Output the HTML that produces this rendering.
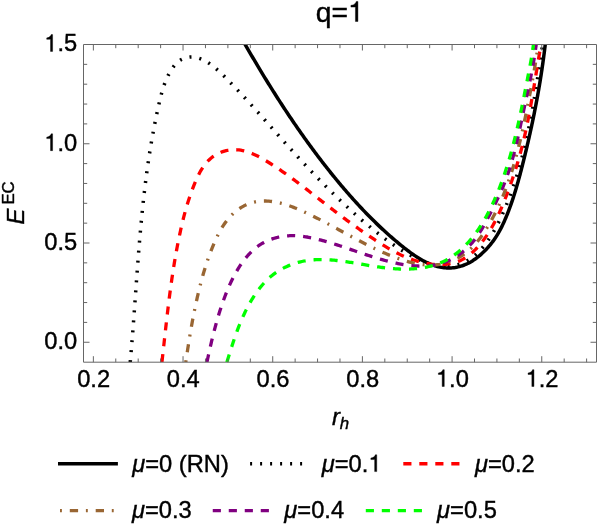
<!DOCTYPE html>
<html><head><meta charset="utf-8"><title>q=1</title>
<style>
html,body{margin:0;padding:0;background:#fff;}
body{width:597px;height:525px;overflow:hidden;}
svg{display:block;will-change:transform;}
text{font-family:"Liberation Sans",sans-serif;fill:#000;stroke:#000;stroke-width:0.4px;}
.g{fill:#000;stroke:#000;stroke-width:0.4px;}
.i{font-style:italic;}
</style></head><body>
<svg width="597" height="525" viewBox="0 0 597 525">
<rect width="597" height="525" fill="#fff"/>
<defs><clipPath id="c"><rect x="83.5" y="44.5" width="513.0" height="317.7"/></clipPath></defs>
<g clip-path="url(#c)" fill="none" stroke-width="3.3" stroke-linejoin="round">
<path d="M242.95 40.62 L243.66 41.86 L244.37 43.11 L245.08 44.35 L245.79 45.59 L246.51 46.83 L247.22 48.07 L247.94 49.31 L248.66 50.55 L249.38 51.79 L250.10 53.03 L250.83 54.27 L251.55 55.51 L252.28 56.75 L253.01 57.99 L253.74 59.23 L254.47 60.47 L255.20 61.71 L255.94 62.95 L256.67 64.19 L257.41 65.43 L258.15 66.67 L258.89 67.91 L259.64 69.14 L260.38 70.38 L261.13 71.62 L261.87 72.85 L262.62 74.09 L263.38 75.33 L264.13 76.56 L264.88 77.80 L265.64 79.03 L266.40 80.26 L267.16 81.50 L267.92 82.73 L268.68 83.96 L269.45 85.19 L270.21 86.42 L270.98 87.65 L271.75 88.88 L272.52 90.11 L273.29 91.34 L274.07 92.56 L274.85 93.79 L275.62 95.01 L276.40 96.24 L277.19 97.46 L277.97 98.69 L278.75 99.91 L279.54 101.13 L280.33 102.35 L281.12 103.57 L281.91 104.79 L282.71 106.00 L283.50 107.22 L284.30 108.43 L285.10 109.65 L285.90 110.86 L286.70 112.07 L287.51 113.28 L288.31 114.49 L289.12 115.70 L289.93 116.91 L290.75 118.11 L291.56 119.32 L292.37 120.52 L293.19 121.72 L294.01 122.92 L294.83 124.12 L295.65 125.32 L296.48 126.52 L297.31 127.71 L298.13 128.91 L298.96 130.10 L299.80 131.29 L300.63 132.48 L301.47 133.67 L302.30 134.86 L303.14 136.04 L303.98 137.23 L304.83 138.41 L305.67 139.59 L306.52 140.77 L307.37 141.94 L308.22 143.12 L309.07 144.29 L309.93 145.47 L310.78 146.64 L311.64 147.80 L312.50 148.97 L313.36 150.14 L314.23 151.30 L315.09 152.46 L315.96 153.62 L316.83 154.78 L317.70 155.94 L318.58 157.09 L319.45 158.24 L320.33 159.39 L321.21 160.54 L322.09 161.69 L322.98 162.83 L323.86 163.97 L324.75 165.11 L325.64 166.25 L326.53 167.39 L327.42 168.52 L328.32 169.65 L329.22 170.78 L330.12 171.91 L331.02 173.03 L331.92 174.16 L332.83 175.28 L333.73 176.40 L334.64 177.51 L335.56 178.63 L336.47 179.74 L337.38 180.85 L338.30 181.95 L339.22 183.06 L340.14 184.16 L341.07 185.26 L341.99 186.36 L342.92 187.45 L343.85 188.54 L344.78 189.63 L345.72 190.72 L346.65 191.80 L347.59 192.88 L348.53 193.96 L349.48 195.04 L350.42 196.11 L351.37 197.19 L352.32 198.26 L353.28 199.32 L354.23 200.39 L355.19 201.45 L356.15 202.51 L357.12 203.56 L358.08 204.61 L359.05 205.66 L360.03 206.71 L361.01 207.76 L361.99 208.80 L362.97 209.84 L363.96 210.88 L364.95 211.91 L365.94 212.95 L366.94 213.98 L367.94 215.00 L368.95 216.03 L369.96 217.05 L370.97 218.07 L371.99 219.08 L373.01 220.10 L374.04 221.11 L375.07 222.12 L376.10 223.12 L377.14 224.12 L378.19 225.12 L379.23 226.12 L380.29 227.12 L381.34 228.11 L382.41 229.10 L383.47 230.08 L384.55 231.07 L385.62 232.05 L386.71 233.03 L387.79 234.00 L388.89 234.97 L389.98 235.94 L391.09 236.91 L392.20 237.87 L393.31 238.84 L394.43 239.79 L395.56 240.75 L396.69 241.70 L397.83 242.65 L398.97 243.60 L400.12 244.55 L401.27 245.49 L402.43 246.43 L403.60 247.36 L404.78 248.28 L405.95 249.20 L407.14 250.12 L408.33 251.02 L409.53 251.91 L410.73 252.79 L411.94 253.65 L413.16 254.50 L414.38 255.34 L415.61 256.16 L416.84 256.96 L418.08 257.75 L419.33 258.51 L420.58 259.25 L421.84 259.97 L423.10 260.67 L424.37 261.34 L425.65 261.99 L426.93 262.61 L428.22 263.20 L429.51 263.77 L430.81 264.30 L432.12 264.80 L433.43 265.27 L434.75 265.71 L436.07 266.11 L437.40 266.48 L438.74 266.81 L440.08 267.10 L441.43 267.35 L442.78 267.56 L444.14 267.73 L445.51 267.86 L446.88 267.94 L448.26 267.98 L449.64 267.97 L451.03 267.91 L452.42 267.81 L453.82 267.66 L455.23 267.46 L456.63 267.21 L458.04 266.91 L459.44 266.57 L460.83 266.17 L462.22 265.74 L463.60 265.25 L464.96 264.72 L466.31 264.15 L467.64 263.53 L468.96 262.87 L470.25 262.17 L471.53 261.43 L472.78 260.65 L474.02 259.83 L475.24 258.99 L476.44 258.11 L477.62 257.20 L478.78 256.27 L479.92 255.31 L481.04 254.33 L482.14 253.33 L483.22 252.31 L484.28 251.28 L485.32 250.23 L486.34 249.17 L487.34 248.09 L488.32 247.00 L489.28 245.90 L490.22 244.78 L491.14 243.65 L492.04 242.51 L492.91 241.36 L493.77 240.19 L494.60 239.01 L495.42 237.82 L496.21 236.62 L496.98 235.40 L497.72 234.18 L498.45 232.94 L499.16 231.69 L499.84 230.44 L500.51 229.17 L501.17 227.90 L501.81 226.62 L502.43 225.33 L503.04 224.04 L503.64 222.74 L504.23 221.43 L504.80 220.12 L505.37 218.80 L505.93 217.48 L506.48 216.15 L507.03 214.82 L507.56 213.49 L508.09 212.15 L508.60 210.81 L509.12 209.46 L509.62 208.12 L510.12 206.76 L510.60 205.41 L511.09 204.05 L511.56 202.68 L512.03 201.32 L512.49 199.95 L512.95 198.58 L513.40 197.20 L513.84 195.83 L514.28 194.45 L514.71 193.07 L515.14 191.68 L515.56 190.30 L515.98 188.91 L516.39 187.52 L516.80 186.12 L517.20 184.73 L517.60 183.33 L517.99 181.94 L518.38 180.54 L518.77 179.14 L519.15 177.73 L519.53 176.33 L519.91 174.93 L520.28 173.52 L520.65 172.12 L521.02 170.71 L521.38 169.30 L521.74 167.89 L522.10 166.49 L522.46 165.08 L522.81 163.67 L523.16 162.26 L523.52 160.85 L523.87 159.44 L524.21 158.03 L524.56 156.63 L524.90 155.22 L525.24 153.81 L525.59 152.40 L525.92 150.99 L526.26 149.58 L526.60 148.17 L526.93 146.76 L527.26 145.35 L527.59 143.94 L527.92 142.53 L528.24 141.12 L528.57 139.71 L528.89 138.30 L529.21 136.89 L529.52 135.48 L529.84 134.07 L530.15 132.66 L530.47 131.24 L530.77 129.83 L531.08 128.42 L531.39 127.01 L531.69 125.59 L531.99 124.18 L532.29 122.77 L532.59 121.35 L532.89 119.94 L533.18 118.53 L533.47 117.11 L533.76 115.70 L534.05 114.28 L534.33 112.86 L534.61 111.45 L534.89 110.03 L535.17 108.61 L535.45 107.20 L535.72 105.78 L535.99 104.36 L536.26 102.94 L536.53 101.52 L536.79 100.10 L537.06 98.68 L537.32 97.26 L537.58 95.84 L537.83 94.42 L538.09 93.00 L538.34 91.57 L538.59 90.15 L538.83 88.73 L539.08 87.30 L539.32 85.88 L539.56 84.45 L539.80 83.03 L540.03 81.60 L540.26 80.17 L540.49 78.75 L540.72 77.32 L540.94 75.89 L541.17 74.46 L541.39 73.03 L541.61 71.60 L541.82 70.16 L542.03 68.73 L542.24 67.30 L542.45 65.86 L542.66 64.43 L542.86 62.99 L543.06 61.56 L543.26 60.12 L543.45 58.68 L543.64 57.25 L543.83 55.81 L544.02 54.37 L544.20 52.93 L544.39 51.48 L544.57 50.04 L544.74 48.60 L544.92 47.16 L545.09 45.71 L545.26 44.26 L545.42 42.82 L545.59 41.37 L545.75 39.92" stroke="#000" stroke-width="3.5"/>
<path d="M130.23 362.13 L130.44 359.85 L130.64 357.57 L130.84 355.28 L131.04 353.00 L131.24 350.71 L131.43 348.43 L131.62 346.14 L131.81 343.85 L131.99 341.56 L132.18 339.27 L132.36 336.98 L132.54 334.69 L132.72 332.40 L132.90 330.11 L133.07 327.82 L133.25 325.52 L133.42 323.23 L133.59 320.94 L133.76 318.64 L133.93 316.35 L134.10 314.05 L134.27 311.76 L134.43 309.46 L134.60 307.16 L134.77 304.87 L134.93 302.57 L135.10 300.27 L135.26 297.98 L135.43 295.68 L135.59 293.38 L135.75 291.08 L135.92 288.79 L136.08 286.49 L136.25 284.19 L136.42 281.89 L136.58 279.59 L136.75 277.29 L136.92 274.99 L137.09 272.69 L137.26 270.40 L137.43 268.10 L137.60 265.80 L137.77 263.50 L137.95 261.20 L138.12 258.90 L138.30 256.60 L138.48 254.30 L138.66 252.01 L138.85 249.71 L139.03 247.41 L139.22 245.11 L139.41 242.81 L139.60 240.52 L139.79 238.22 L139.99 235.92 L140.19 233.63 L140.39 231.33 L140.59 229.04 L140.80 226.74 L141.01 224.44 L141.22 222.15 L141.44 219.86 L141.66 217.56 L141.88 215.27 L142.11 212.98 L142.34 210.69 L142.57 208.39 L142.81 206.10 L143.05 203.81 L143.29 201.52 L143.54 199.23 L143.80 196.95 L144.05 194.66 L144.32 192.37 L144.58 190.08 L144.85 187.80 L145.13 185.51 L145.41 183.23 L145.69 180.95 L145.98 178.66 L146.28 176.38 L146.58 174.10 L146.89 171.82 L147.20 169.54 L147.51 167.27 L147.83 164.99 L148.16 162.71 L148.50 160.44 L148.83 158.16 L149.18 155.89 L149.53 153.62 L149.89 151.35 L150.25 149.08 L150.62 146.81 L151.00 144.54 L151.38 142.28 L151.77 140.01 L152.17 137.75 L152.57 135.48 L152.98 133.22 L153.40 130.96 L153.82 128.70 L154.25 126.45 L154.69 124.19 L155.14 121.93 L155.59 119.68 L156.05 117.43 L156.52 115.18 L157.00 112.93 L157.48 110.68 L157.98 108.43 L158.48 106.19 L158.99 103.95 L159.50 101.70 L160.03 99.46 L160.58 97.23 L161.15 95.00 L161.75 92.77 L162.38 90.55 L163.05 88.34 L163.77 86.14 L164.54 83.95 L165.36 81.77 L166.25 79.61 L167.20 77.45 L168.23 75.32 L169.34 73.20 L170.53 71.11 L171.80 69.08 L173.17 67.13 L174.62 65.29 L176.17 63.58 L177.81 62.02 L179.55 60.65 L181.39 59.49 L183.33 58.56 L185.36 57.86 L187.47 57.38 L189.62 57.12 L191.82 57.07 L194.04 57.22 L196.26 57.57 L198.48 58.10 L200.66 58.82 L202.81 59.71 L204.90 60.74 L206.95 61.89 L208.93 63.15 L210.86 64.48 L212.73 65.87 L214.54 67.33 L216.31 68.83 L218.04 70.38 L219.75 71.97 L221.42 73.58 L223.08 75.20 L224.72 76.84 L226.36 78.49 L227.99 80.13 L229.61 81.79 L231.22 83.44 L232.83 85.11 L234.43 86.77 L236.02 88.44 L237.61 90.12 L239.19 91.79 L240.77 93.48 L242.34 95.16 L243.91 96.85 L245.47 98.54 L247.03 100.23 L248.58 101.93 L250.13 103.63 L251.67 105.33 L253.21 107.03 L254.75 108.74 L256.29 110.45 L257.82 112.16 L259.35 113.87 L260.88 115.58 L262.41 117.29 L263.93 119.01 L265.46 120.73 L266.98 122.44 L268.50 124.16 L270.02 125.88 L271.55 127.60 L273.07 129.32 L274.59 131.03 L276.11 132.75 L277.64 134.47 L279.16 136.19 L280.69 137.91 L282.22 139.62 L283.75 141.34 L285.28 143.05 L286.82 144.76 L288.36 146.48 L289.90 148.19 L291.44 149.89 L292.99 151.60 L294.53 153.31 L296.09 155.01 L297.64 156.71 L299.20 158.41 L300.76 160.10 L302.33 161.80 L303.90 163.49 L305.47 165.17 L307.04 166.86 L308.62 168.54 L310.21 170.22 L311.79 171.89 L313.38 173.56 L314.98 175.23 L316.57 176.89 L318.18 178.55 L319.78 180.20 L321.39 181.85 L323.01 183.50 L324.63 185.14 L326.25 186.78 L327.88 188.41 L329.52 190.04 L331.15 191.66 L332.80 193.27 L334.44 194.89 L336.10 196.49 L337.76 198.09 L339.42 199.69 L341.09 201.27 L342.76 202.86 L344.44 204.43 L346.12 206.00 L347.81 207.56 L349.51 209.12 L351.21 210.67 L352.91 212.21 L354.63 213.75 L356.35 215.27 L358.07 216.79 L359.80 218.31 L361.54 219.81 L363.28 221.31 L365.03 222.80 L366.78 224.28 L368.55 225.76 L370.31 227.22 L372.09 228.68 L373.87 230.13 L375.66 231.56 L377.46 232.99 L379.26 234.41 L381.08 235.81 L382.91 237.20 L384.74 238.58 L386.59 239.94 L388.45 241.29 L390.32 242.63 L392.20 243.94 L394.10 245.24 L396.00 246.52 L397.93 247.79 L399.86 249.03 L401.82 250.26 L403.78 251.46 L405.77 252.64 L407.77 253.80 L409.79 254.94 L411.82 256.05 L413.88 257.14 L415.95 258.19 L418.04 259.21 L420.15 260.18 L422.27 261.09 L424.42 261.96 L426.58 262.76 L428.76 263.49 L430.95 264.14 L433.17 264.72 L435.40 265.21 L437.65 265.60 L439.92 265.90 L442.21 266.09 L444.51 266.18 L446.81 266.16 L449.11 266.04 L451.41 265.81 L453.68 265.46 L455.94 265.01 L458.17 264.45 L460.36 263.78 L462.52 262.99 L464.62 262.10 L466.67 261.09 L468.66 259.96 L470.59 258.72 L472.45 257.39 L474.25 255.96 L476.00 254.44 L477.68 252.86 L479.32 251.21 L480.89 249.50 L482.42 247.76 L483.90 245.98 L485.34 244.16 L486.72 242.32 L488.07 240.45 L489.37 238.55 L490.63 236.62 L491.86 234.67 L493.05 232.70 L494.21 230.71 L495.33 228.70 L496.42 226.67 L497.49 224.63 L498.53 222.57 L499.54 220.49 L500.53 218.41 L501.50 216.32 L502.45 214.21 L503.38 212.11 L504.30 209.99 L505.20 207.87 L506.08 205.75 L506.95 203.62 L507.80 201.48 L508.63 199.34 L509.45 197.19 L510.26 195.04 L511.05 192.88 L511.83 190.72 L512.59 188.56 L513.34 186.39 L514.08 184.21 L514.80 182.03 L515.51 179.85 L516.20 177.66 L516.88 175.46 L517.55 173.27 L518.21 171.07 L518.86 168.86 L519.49 166.65 L520.11 164.44 L520.73 162.23 L521.33 160.01 L521.91 157.79 L522.49 155.56 L523.06 153.33 L523.62 151.10 L524.17 148.86 L524.70 146.63 L525.23 144.39 L525.75 142.14 L526.26 139.90 L526.76 137.65 L527.26 135.40 L527.74 133.14 L528.22 130.89 L528.69 128.63 L529.15 126.37 L529.60 124.11 L530.05 121.85 L530.49 119.58 L530.92 117.32 L531.35 115.05 L531.77 112.78 L532.18 110.51 L532.59 108.24 L532.99 105.97 L533.39 103.69 L533.78 101.42 L534.17 99.14 L534.56 96.87 L534.93 94.59 L535.31 92.31 L535.68 90.04 L536.05 87.76 L536.41 85.48 L536.77 83.20 L537.13 80.92 L537.49 78.65 L537.84 76.37 L538.19 74.09 L538.54 71.81 L538.89 69.54 L539.24 67.26 L539.58 64.98 L539.92 62.71 L540.27 60.44 L540.61 58.16 L540.95 55.89 L541.29 53.62 L541.63 51.35 L541.98 49.08 L542.32 46.82 L542.66 44.55 L543.01 42.29 L543.36 40.03" stroke="#000" stroke-width="3.5" stroke-dasharray="2 7.986"/>
<path d="M161.94 362.16 L162.15 360.33 L162.35 358.51 L162.55 356.68 L162.76 354.85 L162.96 353.02 L163.16 351.19 L163.36 349.35 L163.57 347.52 L163.77 345.68 L163.97 343.85 L164.17 342.01 L164.37 340.17 L164.58 338.33 L164.78 336.49 L164.98 334.65 L165.19 332.81 L165.39 330.97 L165.60 329.13 L165.80 327.29 L166.01 325.44 L166.22 323.60 L166.43 321.75 L166.64 319.91 L166.85 318.07 L167.07 316.22 L167.28 314.38 L167.50 312.53 L167.72 310.69 L167.94 308.84 L168.16 307.00 L168.38 305.15 L168.61 303.31 L168.84 301.46 L169.07 299.62 L169.31 297.77 L169.54 295.93 L169.78 294.09 L170.03 292.24 L170.27 290.40 L170.52 288.56 L170.77 286.72 L171.02 284.88 L171.28 283.04 L171.54 281.20 L171.81 279.36 L172.07 277.52 L172.35 275.69 L172.62 273.85 L172.90 272.02 L173.18 270.18 L173.47 268.35 L173.76 266.52 L174.06 264.69 L174.36 262.86 L174.66 261.04 L174.97 259.21 L175.28 257.39 L175.60 255.56 L175.93 253.74 L176.25 251.92 L176.59 250.10 L176.93 248.29 L177.27 246.47 L177.62 244.66 L177.97 242.85 L178.33 241.04 L178.70 239.23 L179.07 237.43 L179.45 235.63 L179.83 233.83 L180.22 232.03 L180.61 230.23 L181.01 228.44 L181.42 226.64 L181.84 224.85 L182.26 223.06 L182.69 221.28 L183.13 219.49 L183.58 217.71 L184.04 215.93 L184.51 214.15 L184.99 212.37 L185.48 210.59 L185.98 208.82 L186.49 207.05 L187.02 205.27 L187.55 203.50 L188.10 201.73 L188.67 199.96 L189.24 198.19 L189.84 196.42 L190.44 194.66 L191.06 192.89 L191.70 191.12 L192.36 189.36 L193.03 187.59 L193.71 185.83 L194.42 184.06 L195.14 182.30 L195.89 180.55 L196.66 178.80 L197.45 177.07 L198.28 175.36 L199.14 173.68 L200.03 172.02 L200.96 170.39 L201.94 168.79 L202.95 167.24 L204.01 165.72 L205.12 164.26 L206.28 162.84 L207.50 161.48 L208.77 160.18 L210.09 158.94 L211.49 157.77 L212.94 156.67 L214.45 155.64 L216.01 154.68 L217.62 153.80 L219.27 153.00 L220.96 152.29 L222.69 151.65 L224.44 151.10 L226.22 150.64 L228.01 150.26 L229.83 149.98 L231.65 149.79 L233.48 149.69 L235.31 149.69 L237.13 149.78 L238.95 149.95 L240.76 150.20 L242.55 150.53 L244.33 150.94 L246.09 151.41 L247.85 151.95 L249.59 152.55 L251.31 153.21 L253.03 153.92 L254.73 154.68 L256.42 155.48 L258.10 156.32 L259.77 157.20 L261.42 158.11 L263.07 159.05 L264.70 160.01 L266.33 160.99 L267.94 161.98 L269.55 162.99 L271.14 164.00 L272.73 165.02 L274.30 166.05 L275.87 167.08 L277.43 168.12 L278.98 169.17 L280.53 170.22 L282.06 171.28 L283.59 172.34 L285.12 173.41 L286.63 174.48 L288.14 175.56 L289.65 176.65 L291.15 177.73 L292.64 178.82 L294.13 179.92 L295.61 181.02 L297.09 182.12 L298.57 183.23 L300.04 184.34 L301.51 185.45 L302.97 186.57 L304.44 187.69 L305.89 188.81 L307.35 189.93 L308.81 191.05 L310.26 192.18 L311.71 193.31 L313.16 194.44 L314.61 195.57 L316.06 196.70 L317.51 197.83 L318.96 198.96 L320.41 200.09 L321.86 201.23 L323.32 202.36 L324.77 203.49 L326.23 204.62 L327.68 205.75 L329.14 206.88 L330.60 208.01 L332.07 209.14 L333.54 210.26 L335.01 211.39 L336.48 212.51 L337.96 213.63 L339.44 214.75 L340.93 215.86 L342.41 216.98 L343.91 218.09 L345.40 219.19 L346.90 220.30 L348.40 221.40 L349.90 222.50 L351.41 223.59 L352.92 224.68 L354.43 225.77 L355.94 226.85 L357.46 227.93 L358.98 229.01 L360.50 230.08 L362.03 231.14 L363.56 232.20 L365.09 233.26 L366.62 234.31 L368.15 235.36 L369.69 236.40 L371.23 237.44 L372.77 238.47 L374.32 239.49 L375.86 240.51 L377.41 241.52 L378.96 242.52 L380.52 243.52 L382.08 244.50 L383.65 245.47 L385.23 246.43 L386.81 247.38 L388.40 248.31 L389.99 249.22 L391.60 250.13 L393.21 251.01 L394.84 251.87 L396.47 252.72 L398.11 253.55 L399.77 254.36 L401.44 255.14 L403.12 255.90 L404.81 256.64 L406.52 257.36 L408.25 258.05 L409.98 258.71 L411.74 259.34 L413.51 259.95 L415.29 260.53 L417.09 261.08 L418.91 261.59 L420.74 262.07 L422.58 262.52 L424.43 262.93 L426.29 263.29 L428.16 263.62 L430.02 263.91 L431.89 264.15 L433.76 264.34 L435.63 264.48 L437.49 264.58 L439.35 264.62 L441.20 264.61 L443.04 264.54 L444.87 264.42 L446.69 264.24 L448.49 263.99 L450.27 263.69 L452.04 263.32 L453.78 262.88 L455.51 262.37 L457.21 261.80 L458.88 261.15 L460.52 260.43 L462.14 259.64 L463.72 258.77 L465.28 257.83 L466.80 256.82 L468.30 255.76 L469.76 254.63 L471.19 253.45 L472.60 252.22 L473.97 250.94 L475.32 249.62 L476.63 248.26 L477.92 246.86 L479.18 245.43 L480.41 243.97 L481.61 242.49 L482.78 240.98 L483.92 239.46 L485.03 237.92 L486.12 236.37 L487.17 234.82 L488.20 233.25 L489.21 231.67 L490.19 230.08 L491.14 228.49 L492.08 226.89 L492.99 225.27 L493.87 223.65 L494.74 222.02 L495.59 220.39 L496.42 218.74 L497.23 217.09 L498.03 215.43 L498.81 213.77 L499.57 212.09 L500.32 210.42 L501.06 208.73 L501.78 207.04 L502.49 205.35 L503.19 203.65 L503.89 201.94 L504.57 200.23 L505.24 198.52 L505.91 196.80 L506.57 195.08 L507.23 193.35 L507.88 191.62 L508.52 189.89 L509.16 188.15 L509.79 186.41 L510.42 184.67 L511.04 182.92 L511.65 181.18 L512.26 179.42 L512.86 177.67 L513.45 175.91 L514.03 174.15 L514.61 172.38 L515.18 170.62 L515.74 168.85 L516.30 167.08 L516.84 165.30 L517.38 163.53 L517.91 161.75 L518.43 159.97 L518.95 158.18 L519.45 156.40 L519.95 154.61 L520.43 152.82 L520.91 151.03 L521.38 149.24 L521.84 147.44 L522.30 145.65 L522.74 143.85 L523.18 142.05 L523.61 140.25 L524.04 138.45 L524.46 136.64 L524.87 134.84 L525.27 133.03 L525.67 131.22 L526.06 129.41 L526.45 127.60 L526.83 125.79 L527.20 123.97 L527.57 122.16 L527.94 120.34 L528.29 118.53 L528.65 116.71 L529.00 114.89 L529.35 113.07 L529.69 111.25 L530.02 109.43 L530.36 107.60 L530.69 105.78 L531.01 103.96 L531.34 102.13 L531.66 100.31 L531.98 98.48 L532.29 96.66 L532.60 94.83 L532.91 93.00 L533.22 91.17 L533.53 89.35 L533.83 87.52 L534.14 85.69 L534.44 83.86 L534.74 82.03 L535.04 80.20 L535.34 78.37 L535.64 76.54 L535.94 74.72 L536.24 72.89 L536.53 71.06 L536.83 69.23 L537.13 67.40 L537.43 65.57 L537.73 63.74 L538.04 61.92 L538.34 60.09 L538.65 58.26 L538.95 56.43 L539.26 54.61 L539.57 52.78 L539.88 50.96 L540.20 49.13 L540.52 47.31 L540.84 45.49 L541.16 43.67 L541.49 41.85 L541.82 40.02" stroke="#f00" stroke-dasharray="8.1 7.89"/>
<path d="M185.79 362.16 L186.02 360.59 L186.24 359.02 L186.47 357.44 L186.70 355.87 L186.94 354.29 L187.17 352.71 L187.41 351.14 L187.65 349.56 L187.89 347.98 L188.14 346.39 L188.39 344.81 L188.64 343.23 L188.89 341.65 L189.14 340.06 L189.40 338.48 L189.66 336.90 L189.92 335.31 L190.19 333.73 L190.46 332.15 L190.73 330.56 L191.00 328.98 L191.28 327.39 L191.56 325.81 L191.85 324.23 L192.14 322.65 L192.43 321.07 L192.72 319.48 L193.02 317.90 L193.32 316.32 L193.63 314.75 L193.94 313.17 L194.26 311.59 L194.57 310.02 L194.90 308.44 L195.22 306.87 L195.55 305.30 L195.89 303.73 L196.23 302.16 L196.57 300.59 L196.92 299.03 L197.27 297.46 L197.63 295.90 L198.00 294.34 L198.36 292.78 L198.74 291.23 L199.11 289.68 L199.50 288.12 L199.88 286.58 L200.28 285.03 L200.68 283.49 L201.08 281.94 L201.49 280.40 L201.91 278.87 L202.33 277.33 L202.76 275.80 L203.19 274.27 L203.63 272.75 L204.08 271.22 L204.54 269.70 L205.01 268.18 L205.48 266.66 L205.96 265.14 L206.46 263.63 L206.96 262.12 L207.46 260.61 L207.98 259.10 L208.51 257.59 L209.05 256.09 L209.60 254.59 L210.16 253.09 L210.73 251.59 L211.31 250.09 L211.91 248.59 L212.51 247.10 L213.13 245.61 L213.76 244.12 L214.40 242.63 L215.05 241.14 L215.72 239.66 L216.41 238.18 L217.11 236.71 L217.83 235.25 L218.56 233.80 L219.32 232.36 L220.10 230.93 L220.89 229.52 L221.71 228.12 L222.56 226.74 L223.42 225.38 L224.32 224.04 L225.23 222.72 L226.18 221.43 L227.15 220.16 L228.16 218.91 L229.19 217.70 L230.26 216.51 L231.35 215.35 L232.48 214.23 L233.65 213.14 L234.85 212.08 L236.08 211.06 L237.34 210.08 L238.63 209.15 L239.95 208.25 L241.30 207.40 L242.68 206.59 L244.08 205.83 L245.51 205.12 L246.95 204.47 L248.42 203.86 L249.92 203.31 L251.43 202.82 L252.95 202.39 L254.50 202.01 L256.06 201.70 L257.64 201.45 L259.22 201.26 L260.82 201.12 L262.42 201.04 L264.02 201.01 L265.63 201.02 L267.23 201.08 L268.82 201.18 L270.41 201.33 L271.99 201.51 L273.57 201.73 L275.14 201.98 L276.71 202.27 L278.27 202.60 L279.83 202.95 L281.38 203.34 L282.92 203.75 L284.46 204.20 L286.00 204.66 L287.53 205.16 L289.05 205.67 L290.57 206.21 L292.08 206.77 L293.59 207.35 L295.09 207.95 L296.59 208.56 L298.08 209.19 L299.57 209.83 L301.05 210.49 L302.53 211.15 L304.01 211.82 L305.48 212.50 L306.94 213.19 L308.40 213.89 L309.86 214.59 L311.31 215.29 L312.75 216.00 L314.20 216.72 L315.64 217.44 L317.07 218.17 L318.51 218.90 L319.93 219.63 L321.36 220.37 L322.79 221.11 L324.21 221.86 L325.62 222.60 L327.04 223.35 L328.45 224.11 L329.87 224.86 L331.28 225.62 L332.69 226.38 L334.09 227.14 L335.50 227.91 L336.90 228.67 L338.31 229.43 L339.71 230.20 L341.11 230.96 L342.51 231.73 L343.91 232.49 L345.31 233.26 L346.71 234.02 L348.12 234.78 L349.52 235.54 L350.92 236.30 L352.32 237.06 L353.72 237.82 L355.13 238.57 L356.53 239.32 L357.94 240.07 L359.35 240.82 L360.76 241.56 L362.17 242.29 L363.59 243.03 L365.00 243.76 L366.42 244.48 L367.84 245.21 L369.27 245.92 L370.69 246.63 L372.12 247.34 L373.56 248.03 L375.00 248.73 L376.44 249.41 L377.89 250.09 L379.34 250.76 L380.79 251.42 L382.25 252.08 L383.72 252.72 L385.19 253.36 L386.66 253.99 L388.15 254.61 L389.63 255.22 L391.13 255.82 L392.63 256.41 L394.14 256.98 L395.65 257.55 L397.17 258.11 L398.70 258.65 L400.24 259.18 L401.78 259.70 L403.33 260.21 L404.88 260.69 L406.45 261.16 L408.01 261.61 L409.58 262.04 L411.15 262.44 L412.73 262.83 L414.31 263.18 L415.90 263.51 L417.48 263.82 L419.07 264.09 L420.65 264.33 L422.24 264.54 L423.83 264.72 L425.42 264.86 L427.01 264.96 L428.59 265.03 L430.18 265.06 L431.76 265.05 L433.34 264.99 L434.91 264.89 L436.49 264.75 L438.06 264.56 L439.62 264.32 L441.18 264.04 L442.73 263.71 L444.27 263.34 L445.80 262.93 L447.33 262.47 L448.84 261.97 L450.34 261.43 L451.82 260.85 L453.30 260.22 L454.75 259.56 L456.19 258.86 L457.62 258.12 L459.02 257.35 L460.40 256.54 L461.77 255.69 L463.11 254.81 L464.43 253.89 L465.73 252.95 L467.00 251.97 L468.25 250.95 L469.46 249.91 L470.65 248.83 L471.82 247.73 L472.95 246.60 L474.06 245.44 L475.14 244.26 L476.20 243.05 L477.23 241.82 L478.24 240.57 L479.23 239.30 L480.20 238.01 L481.15 236.71 L482.08 235.39 L482.99 234.06 L483.89 232.72 L484.77 231.36 L485.63 230.00 L486.49 228.63 L487.33 227.25 L488.15 225.87 L488.97 224.49 L489.78 223.09 L490.57 221.70 L491.35 220.30 L492.12 218.89 L492.88 217.48 L493.63 216.06 L494.37 214.64 L495.10 213.22 L495.81 211.79 L496.52 210.36 L497.22 208.92 L497.90 207.48 L498.58 206.03 L499.25 204.58 L499.90 203.12 L500.55 201.67 L501.19 200.20 L501.82 198.74 L502.44 197.27 L503.05 195.79 L503.65 194.31 L504.24 192.83 L504.83 191.35 L505.40 189.86 L505.97 188.37 L506.53 186.87 L507.08 185.38 L507.62 183.87 L508.16 182.37 L508.68 180.86 L509.20 179.35 L509.71 177.84 L510.22 176.32 L510.72 174.80 L511.21 173.28 L511.69 171.76 L512.17 170.23 L512.64 168.70 L513.10 167.17 L513.56 165.63 L514.01 164.10 L514.46 162.56 L514.89 161.02 L515.33 159.48 L515.76 157.93 L516.18 156.38 L516.59 154.83 L517.00 153.28 L517.41 151.73 L517.81 150.18 L518.21 148.62 L518.60 147.07 L518.98 145.51 L519.37 143.95 L519.74 142.39 L520.12 140.82 L520.49 139.26 L520.85 137.69 L521.21 136.13 L521.57 134.56 L521.93 132.99 L522.28 131.43 L522.62 129.86 L522.97 128.29 L523.31 126.72 L523.65 125.14 L523.98 123.57 L524.32 122.00 L524.65 120.43 L524.97 118.85 L525.30 117.28 L525.62 115.71 L525.94 114.14 L526.26 112.56 L526.58 110.99 L526.90 109.42 L527.21 107.84 L527.53 106.27 L527.84 104.70 L528.15 103.12 L528.46 101.55 L528.76 99.98 L529.07 98.41 L529.37 96.84 L529.68 95.26 L529.98 93.69 L530.28 92.12 L530.57 90.55 L530.87 88.97 L531.16 87.40 L531.46 85.83 L531.75 84.25 L532.03 82.68 L532.32 81.11 L532.60 79.53 L532.89 77.96 L533.17 76.38 L533.44 74.81 L533.72 73.23 L533.99 71.66 L534.27 70.08 L534.54 68.50 L534.80 66.93 L535.07 65.35 L535.33 63.77 L535.59 62.19 L535.85 60.61 L536.10 59.03 L536.35 57.44 L536.60 55.86 L536.85 54.28 L537.10 52.69 L537.34 51.11 L537.58 49.52 L537.82 47.93 L538.05 46.35 L538.28 44.76 L538.51 43.17 L538.74 41.58 L538.96 39.98" stroke="#996633" stroke-dasharray="1.9 8 8.13 8"/>
<path d="M206.94 362.22 L207.24 360.81 L207.54 359.41 L207.84 358.01 L208.14 356.61 L208.45 355.20 L208.75 353.80 L209.06 352.40 L209.37 351.00 L209.69 349.60 L210.00 348.21 L210.32 346.81 L210.64 345.41 L210.96 344.01 L211.29 342.62 L211.62 341.22 L211.95 339.83 L212.29 338.44 L212.63 337.05 L212.97 335.66 L213.32 334.27 L213.67 332.88 L214.03 331.49 L214.38 330.11 L214.75 328.72 L215.12 327.34 L215.49 325.96 L215.86 324.58 L216.25 323.20 L216.63 321.82 L217.02 320.45 L217.42 319.07 L217.82 317.70 L218.23 316.33 L218.64 314.96 L219.06 313.60 L219.49 312.23 L219.92 310.87 L220.35 309.51 L220.80 308.15 L221.25 306.79 L221.70 305.44 L222.16 304.09 L222.63 302.74 L223.11 301.39 L223.59 300.04 L224.08 298.70 L224.58 297.36 L225.08 296.02 L225.59 294.69 L226.11 293.35 L226.64 292.02 L227.18 290.70 L227.73 289.38 L228.28 288.06 L228.85 286.74 L229.43 285.43 L230.01 284.12 L230.61 282.82 L231.22 281.52 L231.85 280.23 L232.48 278.94 L233.13 277.66 L233.79 276.39 L234.47 275.12 L235.16 273.85 L235.86 272.59 L236.58 271.34 L237.31 270.10 L238.06 268.86 L238.83 267.63 L239.61 266.41 L240.41 265.19 L241.22 263.99 L242.05 262.80 L242.90 261.62 L243.77 260.45 L244.65 259.30 L245.55 258.17 L246.47 257.05 L247.41 255.96 L248.37 254.88 L249.34 253.82 L250.34 252.79 L251.35 251.78 L252.38 250.79 L253.44 249.83 L254.51 248.89 L255.60 247.98 L256.72 247.11 L257.85 246.26 L259.01 245.44 L260.18 244.66 L261.38 243.91 L262.60 243.19 L263.83 242.51 L265.09 241.86 L266.36 241.24 L267.65 240.66 L268.96 240.10 L270.28 239.59 L271.62 239.10 L272.96 238.65 L274.32 238.23 L275.70 237.84 L277.08 237.49 L278.47 237.16 L279.87 236.87 L281.28 236.61 L282.69 236.38 L284.11 236.19 L285.54 236.02 L286.97 235.89 L288.40 235.79 L289.83 235.72 L291.27 235.68 L292.70 235.67 L294.14 235.69 L295.58 235.74 L297.02 235.81 L298.45 235.91 L299.89 236.04 L301.33 236.19 L302.76 236.36 L304.20 236.56 L305.63 236.77 L307.06 237.00 L308.49 237.26 L309.92 237.53 L311.34 237.81 L312.76 238.11 L314.18 238.43 L315.60 238.76 L317.01 239.10 L318.41 239.45 L319.82 239.81 L321.22 240.18 L322.61 240.56 L324.00 240.95 L325.39 241.34 L326.77 241.74 L328.14 242.14 L329.52 242.55 L330.89 242.96 L332.25 243.38 L333.61 243.81 L334.97 244.24 L336.33 244.67 L337.68 245.10 L339.03 245.54 L340.38 245.99 L341.73 246.43 L343.07 246.88 L344.42 247.33 L345.76 247.78 L347.10 248.24 L348.44 248.70 L349.78 249.15 L351.12 249.61 L352.46 250.07 L353.80 250.53 L355.14 250.99 L356.48 251.44 L357.82 251.90 L359.16 252.36 L360.50 252.81 L361.85 253.27 L363.19 253.72 L364.54 254.17 L365.89 254.62 L367.24 255.06 L368.60 255.51 L369.95 255.94 L371.31 256.38 L372.68 256.81 L374.04 257.24 L375.41 257.66 L376.79 258.08 L378.16 258.49 L379.55 258.90 L380.93 259.30 L382.32 259.69 L383.72 260.08 L385.12 260.47 L386.53 260.84 L387.94 261.21 L389.35 261.57 L390.77 261.92 L392.19 262.26 L393.62 262.59 L395.04 262.91 L396.47 263.21 L397.91 263.51 L399.34 263.79 L400.78 264.06 L402.21 264.31 L403.65 264.55 L405.09 264.78 L406.53 264.99 L407.97 265.18 L409.40 265.36 L410.84 265.51 L412.28 265.65 L413.71 265.77 L415.15 265.87 L416.58 265.95 L418.01 266.01 L419.43 266.05 L420.86 266.07 L422.28 266.06 L423.70 266.03 L425.11 265.98 L426.52 265.90 L427.93 265.79 L429.33 265.67 L430.72 265.51 L432.11 265.33 L433.50 265.12 L434.87 264.88 L436.25 264.61 L437.61 264.31 L438.97 263.99 L440.32 263.63 L441.67 263.24 L443.00 262.82 L444.33 262.37 L445.65 261.88 L446.96 261.36 L448.26 260.80 L449.55 260.21 L450.83 259.59 L452.10 258.94 L453.36 258.25 L454.61 257.53 L455.84 256.78 L457.06 256.00 L458.27 255.19 L459.45 254.36 L460.63 253.50 L461.79 252.62 L462.93 251.71 L464.05 250.77 L465.15 249.82 L466.24 248.84 L467.30 247.84 L468.34 246.82 L469.36 245.79 L470.36 244.73 L471.34 243.66 L472.29 242.58 L473.22 241.47 L474.12 240.36 L475.01 239.23 L475.87 238.08 L476.71 236.93 L477.53 235.76 L478.34 234.58 L479.12 233.39 L479.90 232.19 L480.65 230.98 L481.40 229.77 L482.13 228.54 L482.85 227.31 L483.55 226.07 L484.25 224.82 L484.94 223.57 L485.63 222.31 L486.30 221.05 L486.97 219.79 L487.64 218.52 L488.30 217.25 L488.96 215.97 L489.62 214.70 L490.28 213.43 L490.94 212.15 L491.60 210.87 L492.25 209.60 L492.90 208.32 L493.55 207.04 L494.20 205.75 L494.84 204.47 L495.48 203.19 L496.12 201.90 L496.75 200.61 L497.37 199.32 L497.99 198.02 L498.60 196.73 L499.21 195.43 L499.81 194.13 L500.40 192.82 L500.99 191.52 L501.56 190.21 L502.13 188.89 L502.69 187.58 L503.23 186.26 L503.77 184.93 L504.30 183.61 L504.82 182.28 L505.33 180.95 L505.84 179.61 L506.33 178.27 L506.81 176.93 L507.29 175.58 L507.76 174.24 L508.22 172.89 L508.67 171.53 L509.11 170.18 L509.55 168.82 L509.98 167.46 L510.40 166.09 L510.82 164.73 L511.23 163.36 L511.63 161.99 L512.03 160.62 L512.42 159.24 L512.80 157.87 L513.18 156.49 L513.55 155.11 L513.92 153.73 L514.28 152.34 L514.64 150.96 L514.99 149.57 L515.34 148.18 L515.69 146.79 L516.03 145.40 L516.36 144.01 L516.69 142.61 L517.02 141.22 L517.35 139.82 L517.67 138.43 L517.99 137.03 L518.30 135.63 L518.61 134.23 L518.92 132.83 L519.23 131.43 L519.54 130.02 L519.84 128.62 L520.14 127.22 L520.44 125.81 L520.74 124.41 L521.04 123.00 L521.34 121.60 L521.63 120.19 L521.93 118.79 L522.23 117.38 L522.52 115.98 L522.82 114.58 L523.11 113.17 L523.41 111.77 L523.70 110.36 L524.00 108.96 L524.30 107.56 L524.59 106.15 L524.89 104.75 L525.19 103.35 L525.49 101.95 L525.79 100.55 L526.09 99.14 L526.39 97.74 L526.69 96.34 L526.99 94.94 L527.29 93.54 L527.59 92.14 L527.89 90.74 L528.18 89.34 L528.48 87.94 L528.77 86.54 L529.06 85.14 L529.35 83.74 L529.64 82.33 L529.93 80.93 L530.22 79.53 L530.50 78.13 L530.78 76.73 L531.06 75.32 L531.33 73.92 L531.61 72.52 L531.88 71.11 L532.14 69.71 L532.40 68.30 L532.66 66.89 L532.92 65.49 L533.17 64.08 L533.42 62.67 L533.67 61.26 L533.91 59.85 L534.14 58.44 L534.38 57.03 L534.60 55.61 L534.83 54.20 L535.04 52.78 L535.26 51.37 L535.46 49.95 L535.66 48.53 L535.86 47.11 L536.05 45.69 L536.24 44.26 L536.42 42.84 L536.59 41.42 L536.75 39.99" stroke="#800080" stroke-dasharray="8.1 7.95"/>
<path d="M226.87 362.17 L227.25 360.93 L227.64 359.68 L228.02 358.44 L228.41 357.19 L228.80 355.95 L229.19 354.70 L229.58 353.45 L229.97 352.21 L230.36 350.96 L230.76 349.71 L231.15 348.47 L231.55 347.22 L231.96 345.97 L232.36 344.73 L232.77 343.49 L233.18 342.24 L233.60 341.00 L234.02 339.76 L234.44 338.52 L234.87 337.28 L235.30 336.05 L235.74 334.81 L236.18 333.58 L236.63 332.35 L237.08 331.12 L237.54 329.89 L238.00 328.66 L238.47 327.44 L238.95 326.22 L239.43 325.00 L239.92 323.79 L240.42 322.58 L240.92 321.37 L241.43 320.16 L241.95 318.96 L242.47 317.76 L243.01 316.57 L243.55 315.38 L244.10 314.19 L244.66 313.00 L245.23 311.82 L245.80 310.65 L246.39 309.48 L246.99 308.31 L247.59 307.15 L248.21 305.99 L248.84 304.84 L249.47 303.69 L250.12 302.55 L250.78 301.41 L251.45 300.27 L252.13 299.15 L252.82 298.03 L253.52 296.91 L254.24 295.80 L254.97 294.70 L255.71 293.61 L256.46 292.52 L257.23 291.45 L258.01 290.39 L258.80 289.33 L259.61 288.29 L260.42 287.26 L261.26 286.24 L262.10 285.23 L262.97 284.24 L263.84 283.26 L264.73 282.30 L265.64 281.35 L266.56 280.42 L267.49 279.50 L268.45 278.60 L269.41 277.72 L270.40 276.86 L271.40 276.02 L272.41 275.20 L273.44 274.39 L274.49 273.61 L275.56 272.85 L276.64 272.11 L277.73 271.39 L278.84 270.69 L279.97 270.02 L281.10 269.36 L282.25 268.73 L283.41 268.11 L284.58 267.52 L285.76 266.95 L286.96 266.40 L288.16 265.87 L289.37 265.37 L290.59 264.88 L291.81 264.42 L293.05 263.98 L294.29 263.56 L295.53 263.16 L296.79 262.79 L298.04 262.43 L299.30 262.10 L300.57 261.79 L301.83 261.51 L303.10 261.24 L304.38 261.00 L305.65 260.77 L306.93 260.57 L308.21 260.39 L309.49 260.23 L310.77 260.09 L312.06 259.96 L313.34 259.85 L314.63 259.77 L315.93 259.69 L317.22 259.64 L318.51 259.60 L319.81 259.58 L321.11 259.57 L322.41 259.58 L323.71 259.60 L325.01 259.63 L326.31 259.68 L327.62 259.74 L328.92 259.82 L330.23 259.90 L331.53 260.00 L332.84 260.11 L334.15 260.22 L335.46 260.35 L336.77 260.49 L338.08 260.64 L339.39 260.79 L340.70 260.95 L342.01 261.12 L343.32 261.30 L344.64 261.48 L345.95 261.67 L347.26 261.87 L348.57 262.07 L349.88 262.27 L351.19 262.48 L352.51 262.70 L353.82 262.91 L355.13 263.13 L356.44 263.35 L357.74 263.57 L359.05 263.80 L360.36 264.02 L361.67 264.25 L362.97 264.47 L364.28 264.69 L365.58 264.91 L366.88 265.14 L368.18 265.35 L369.48 265.57 L370.78 265.78 L372.08 265.99 L373.38 266.20 L374.67 266.40 L375.97 266.60 L377.27 266.79 L378.56 266.98 L379.86 267.16 L381.15 267.34 L382.45 267.51 L383.74 267.68 L385.03 267.84 L386.33 267.99 L387.62 268.13 L388.91 268.26 L390.21 268.39 L391.50 268.51 L392.80 268.62 L394.09 268.72 L395.39 268.80 L396.68 268.88 L397.98 268.95 L399.28 269.01 L400.57 269.06 L401.87 269.09 L403.17 269.11 L404.47 269.12 L405.77 269.12 L407.08 269.10 L408.38 269.07 L409.69 269.03 L410.99 268.97 L412.30 268.90 L413.61 268.81 L414.92 268.71 L416.23 268.59 L417.54 268.45 L418.85 268.30 L420.16 268.13 L421.46 267.95 L422.77 267.74 L424.07 267.52 L425.37 267.28 L426.66 267.02 L427.95 266.74 L429.24 266.45 L430.51 266.13 L431.79 265.79 L433.05 265.44 L434.31 265.06 L435.56 264.66 L436.80 264.24 L438.03 263.80 L439.25 263.33 L440.46 262.85 L441.66 262.33 L442.85 261.80 L444.02 261.24 L445.19 260.66 L446.34 260.06 L447.48 259.43 L448.60 258.78 L449.71 258.11 L450.81 257.42 L451.90 256.71 L452.98 255.97 L454.04 255.22 L455.09 254.45 L456.13 253.67 L457.15 252.86 L458.17 252.04 L459.17 251.20 L460.16 250.34 L461.13 249.47 L462.10 248.59 L463.05 247.69 L463.99 246.78 L464.92 245.85 L465.84 244.91 L466.74 243.96 L467.63 243.00 L468.51 242.03 L469.38 241.05 L470.24 240.05 L471.08 239.05 L471.91 238.04 L472.74 237.02 L473.55 235.99 L474.35 234.96 L475.14 233.91 L475.91 232.85 L476.68 231.79 L477.44 230.72 L478.19 229.64 L478.92 228.56 L479.65 227.46 L480.37 226.36 L481.07 225.26 L481.77 224.14 L482.46 223.03 L483.14 221.90 L483.81 220.77 L484.47 219.63 L485.13 218.49 L485.77 217.34 L486.41 216.19 L487.04 215.03 L487.66 213.87 L488.27 212.70 L488.88 211.53 L489.47 210.36 L490.06 209.18 L490.65 208.00 L491.22 206.81 L491.79 205.63 L492.35 204.43 L492.91 203.24 L493.46 202.05 L494.00 200.85 L494.53 199.65 L495.06 198.45 L495.59 197.24 L496.11 196.04 L496.62 194.83 L497.13 193.62 L497.63 192.41 L498.12 191.20 L498.61 189.98 L499.10 188.77 L499.58 187.55 L500.05 186.33 L500.52 185.11 L500.98 183.89 L501.44 182.66 L501.89 181.44 L502.34 180.21 L502.78 178.98 L503.22 177.75 L503.65 176.52 L504.08 175.28 L504.50 174.05 L504.92 172.81 L505.33 171.57 L505.74 170.33 L506.14 169.09 L506.54 167.85 L506.94 166.61 L507.33 165.36 L507.72 164.12 L508.10 162.87 L508.48 161.62 L508.86 160.37 L509.23 159.12 L509.59 157.86 L509.96 156.61 L510.32 155.36 L510.67 154.10 L511.02 152.84 L511.37 151.58 L511.72 150.33 L512.06 149.07 L512.40 147.80 L512.73 146.54 L513.06 145.28 L513.39 144.01 L513.72 142.75 L514.04 141.48 L514.36 140.21 L514.68 138.95 L514.99 137.68 L515.30 136.41 L515.61 135.14 L515.92 133.87 L516.22 132.59 L516.52 131.32 L516.82 130.05 L517.11 128.77 L517.41 127.50 L517.70 126.22 L517.99 124.94 L518.27 123.67 L518.56 122.39 L518.84 121.11 L519.12 119.83 L519.40 118.55 L519.68 117.27 L519.95 115.99 L520.23 114.71 L520.50 113.43 L520.77 112.15 L521.04 110.87 L521.31 109.58 L521.57 108.30 L521.84 107.02 L522.10 105.73 L522.37 104.45 L522.63 103.16 L522.89 101.88 L523.15 100.59 L523.41 99.31 L523.67 98.02 L523.93 96.74 L524.18 95.45 L524.44 94.16 L524.69 92.88 L524.95 91.59 L525.20 90.31 L525.46 89.02 L525.71 87.73 L525.97 86.45 L526.22 85.16 L526.47 83.87 L526.73 82.59 L526.98 81.30 L527.24 80.01 L527.49 78.73 L527.75 77.44 L528.00 76.15 L528.25 74.87 L528.51 73.58 L528.76 72.30 L529.01 71.01 L529.26 69.72 L529.51 68.44 L529.76 67.15 L530.00 65.86 L530.24 64.58 L530.48 63.29 L530.72 62.00 L530.95 60.71 L531.18 59.42 L531.40 58.13 L531.62 56.84 L531.83 55.55 L532.04 54.26 L532.25 52.97 L532.45 51.67 L532.64 50.38 L532.83 49.09 L533.01 47.79 L533.18 46.49 L533.35 45.20 L533.51 43.90 L533.66 42.60 L533.80 41.30 L533.94 39.99" stroke="#00ff00" stroke-dasharray="8.1 7.92"/>
</g>
<path d="M83.5 44.5H596.5V362.2H83.5ZM93.36 362.2v-6.0M93.36 44.5v6.0M115.78 362.2v-3.7M115.78 44.5v3.7M138.20 362.2v-3.7M138.20 44.5v3.7M160.62 362.2v-3.7M160.62 44.5v3.7M183.04 362.2v-6.0M183.04 44.5v6.0M205.46 362.2v-3.7M205.46 44.5v3.7M227.88 362.2v-3.7M227.88 44.5v3.7M250.30 362.2v-3.7M250.30 44.5v3.7M272.72 362.2v-6.0M272.72 44.5v6.0M295.14 362.2v-3.7M295.14 44.5v3.7M317.56 362.2v-3.7M317.56 44.5v3.7M339.98 362.2v-3.7M339.98 44.5v3.7M362.40 362.2v-6.0M362.40 44.5v6.0M384.82 362.2v-3.7M384.82 44.5v3.7M407.24 362.2v-3.7M407.24 44.5v3.7M429.66 362.2v-3.7M429.66 44.5v3.7M452.08 362.2v-6.0M452.08 44.5v6.0M474.50 362.2v-3.7M474.50 44.5v3.7M496.92 362.2v-3.7M496.92 44.5v3.7M519.34 362.2v-3.7M519.34 44.5v3.7M541.76 362.2v-6.0M541.76 44.5v6.0M564.18 362.2v-3.7M564.18 44.5v3.7M586.60 362.2v-3.7M586.60 44.5v3.7M83.5 342.25h6.0M596.5 342.25h-6.0M83.5 322.40h3.7M596.5 322.40h-3.7M83.5 302.55h3.7M596.5 302.55h-3.7M83.5 282.70h3.7M596.5 282.70h-3.7M83.5 262.85h3.7M596.5 262.85h-3.7M83.5 243.00h6.0M596.5 243.00h-6.0M83.5 223.15h3.7M596.5 223.15h-3.7M83.5 203.30h3.7M596.5 203.30h-3.7M83.5 183.45h3.7M596.5 183.45h-3.7M83.5 163.60h3.7M596.5 163.60h-3.7M83.5 143.75h6.0M596.5 143.75h-6.0M83.5 123.90h3.7M596.5 123.90h-3.7M83.5 104.05h3.7M596.5 104.05h-3.7M83.5 84.20h3.7M596.5 84.20h-3.7M83.5 64.35h3.7M596.5 64.35h-3.7" fill="none" stroke="#666" stroke-width="1"/>
<text x="77.19" y="386.5" font-size="23.7" xml:space="preserve">0.2</text>
<text x="166.87" y="386.5" font-size="23.7" xml:space="preserve">0.4</text>
<text x="256.55" y="386.5" font-size="23.7" xml:space="preserve">0.6</text>
<text x="346.23" y="386.5" font-size="23.7" xml:space="preserve">0.8</text>
<path class="g" d="M444.26 386.50L444.26 369.70L442.86 369.70C442.45 371.10 441.32 372.75 438.38 372.99L438.38 374.46L442.17 374.46L442.17 386.50Z"/>
<text x="449.09" y="386.5" font-size="23.7" xml:space="preserve">.0</text>
<path class="g" d="M533.94 386.50L533.94 369.70L532.54 369.70C532.13 371.10 531.00 372.75 528.06 372.99L528.06 374.46L531.85 374.46L531.85 386.50Z"/>
<text x="538.77" y="386.5" font-size="23.7" xml:space="preserve">.2</text>
<text x="44.26" y="349.15" font-size="23.7" xml:space="preserve">0.0</text>
<text x="44.26" y="249.9" font-size="23.7" xml:space="preserve">0.5</text>
<path class="g" d="M52.60 150.65L52.60 133.85L51.20 133.85C50.80 135.25 49.66 136.90 46.72 137.14L46.72 138.61L50.51 138.61L50.51 150.65Z"/>
<text x="57.43" y="150.65" font-size="23.7" xml:space="preserve">.0</text>
<path class="g" d="M52.60 51.40L52.60 34.60L51.20 34.60C50.80 35.99 49.66 37.65 46.72 37.89L46.72 39.36L50.51 39.36L50.51 51.40Z"/>
<text x="57.43" y="51.4" font-size="23.7" xml:space="preserve">.5</text>
<text x="315.70" y="21.5" font-size="28.3">q=</text>
<path class="g" d="M357.93 21.50L357.93 1.44L356.26 1.44C355.77 3.11 354.42 5.09 350.91 5.37L350.91 7.12L355.43 7.12L355.43 21.50Z"/>
<text x="331.9" y="424.7" font-size="23.7" class="i">r<tspan font-size="16.8" dy="4.5">h</tspan></text>
<text transform="translate(24.2 224.6) rotate(-90)" font-size="23.7"><tspan class="i">E</tspan><tspan font-size="16.8" dy="-10.2" dx="4.2">EC</tspan></text>
<g fill="none" stroke-width="3.3">
<path d="M58 463.85H117.9" stroke="#000" stroke-width="3.5"/>
<path d="M250.1 463.8H304" stroke="#000" stroke-width="3.5" stroke-dasharray="2 8"/>
<path d="M403.3 463.75H460" stroke="#f00" stroke-dasharray="8.15 7.85"/>
<path d="M60.0 510.65H114" stroke="#996633" stroke-dasharray="1.9 7.9 8.3 7.8"/>
<path d="M212.75 510.6H270" stroke="#800080" stroke-dasharray="8.15 7.85"/>
<path d="M365.8 510.6H422.5" stroke="#00ff00" stroke-dasharray="8.15 7.85"/>
</g>
<text x="132.2" y="471.6" font-size="23.7" class="i">μ</text>
<text x="145.19" y="471.6" font-size="23.7" xml:space="preserve">=0 (RN)</text>
<text x="321.8" y="471.6" font-size="23.7" class="i">μ</text>
<text x="334.79" y="471.6" font-size="23.7">=0.</text>
<path class="g" d="M376.74 471.60L376.74 454.80L375.34 454.80C374.94 456.20 373.80 457.85 370.86 458.09L370.86 459.56L374.65 459.56L374.65 471.60Z"/>
<text x="475.0" y="471.6" font-size="23.7" class="i">μ</text>
<text x="487.99" y="471.6" font-size="23.7" xml:space="preserve">=0.2</text>
<text x="132.0" y="518.4" font-size="23.7" class="i">μ</text>
<text x="144.99" y="518.4" font-size="23.7" xml:space="preserve">=0.3</text>
<text x="284.35" y="518.4" font-size="23.7" class="i">μ</text>
<text x="297.34" y="518.4" font-size="23.7" xml:space="preserve">=0.4</text>
<text x="437.1" y="518.4" font-size="23.7" class="i">μ</text>
<text x="450.09" y="518.4" font-size="23.7" xml:space="preserve">=0.5</text>
</svg>
</body></html>
